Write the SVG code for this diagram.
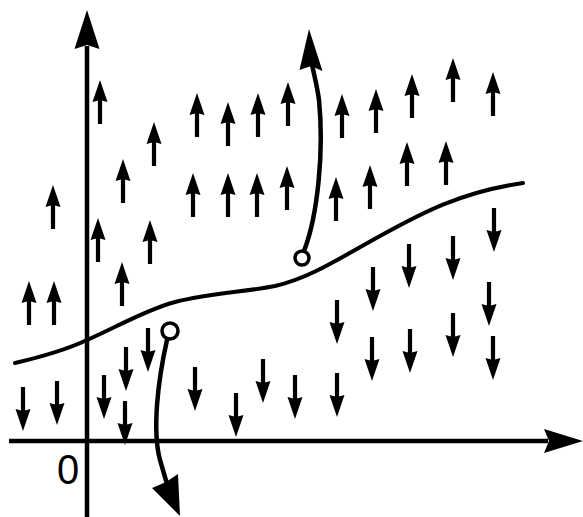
<svg xmlns="http://www.w3.org/2000/svg" xmlns:xlink="http://www.w3.org/1999/xlink" width="583" height="517" viewBox="0 0 583 517">
<style>
.ax{stroke:#000;stroke-width:4.5;fill:none}
.cv{stroke:#000;stroke-width:4;fill:none;stroke-linecap:round}
.tr{stroke:#000;stroke-width:4.5;fill:none;stroke-linecap:round}
.hd{fill:#000}
.pt{fill:#fff;stroke:#000;stroke-width:3.5}
.lb{font-family:"Liberation Sans",Arial,sans-serif;font-size:42px;fill:#000}
</style>
<defs>
<g id="up"><path d="M0,0 L7.5,22 L0,20 L-7.5,22 Z" fill="#000"/><rect x="-2.1" y="17" width="4.2" height="27" fill="#000"/></g>
<g id="dn"><rect x="-2.1" y="0" width="4.2" height="27" fill="#000"/><path d="M0,44 L7.5,22 L0,24 L-7.5,22 Z" fill="#000"/></g>
</defs>
<rect width="583" height="517" fill="#fff"/>
<g id="axes">
<line class="ax" x1="87" y1="46" x2="87" y2="517"/>
<path class="hd" d="M87,10 L99.5,49 L87,45 L74.5,49 Z"/>
<line class="ax" x1="9" y1="441" x2="548" y2="441"/>
<path class="hd" d="M583,441 L544,453 L549,441 L544,429 Z"/>
<text class="lb" x="68" y="484" text-anchor="middle" transform="translate(68,0) scale(0.95,1) translate(-68,0)">0</text>
</g>
<g id="boundary">
<path class="cv" d="M15,363 C45,356 70,348 87,340 C115,328 145,310 175,302 C210,293 245,292 275,286 C310,278 340,258 380,236 C420,214 460,192 523,183"/>
</g>
<g id="up-arrows">
<use href="#up" x="100" y="80"/>
<use href="#up" x="197" y="93"/>
<use href="#up" x="228" y="102"/>
<use href="#up" x="258" y="93"/>
<use href="#up" x="288" y="82"/>
<use href="#up" x="154" y="122"/>
<use href="#up" x="123" y="159"/>
<use href="#up" x="193" y="173"/>
<use href="#up" x="228" y="173"/>
<use href="#up" x="257" y="173"/>
<use href="#up" x="287" y="166"/>
<use href="#up" x="53" y="185"/>
<use href="#up" x="98" y="218"/>
<use href="#up" x="150" y="220"/>
<use href="#up" x="122" y="262"/>
<use href="#up" x="29" y="281"/>
<use href="#up" x="54" y="281"/>
<use href="#up" x="342" y="94"/>
<use href="#up" x="376" y="89"/>
<use href="#up" x="412" y="74"/>
<use href="#up" x="453" y="58"/>
<use href="#up" x="493" y="72"/>
<use href="#up" x="336" y="177"/>
<use href="#up" x="370" y="165"/>
<use href="#up" x="407" y="142"/>
<use href="#up" x="446" y="141"/>
</g>
<g id="down-arrows">
<use href="#dn" x="494" y="208"/>
<use href="#dn" x="453" y="236"/>
<use href="#dn" x="409" y="244"/>
<use href="#dn" x="373" y="267"/>
<use href="#dn" x="337" y="300"/>
<use href="#dn" x="489" y="282"/>
<use href="#dn" x="453" y="313"/>
<use href="#dn" x="410" y="329"/>
<use href="#dn" x="372" y="337"/>
<use href="#dn" x="493" y="336"/>
<use href="#dn" x="337" y="373"/>
<use href="#dn" x="295" y="375"/>
<use href="#dn" x="23" y="387"/>
<use href="#dn" x="57" y="381"/>
<use href="#dn" x="104" y="375"/>
<use href="#dn" x="126" y="347"/>
<use href="#dn" x="148" y="328"/>
<use href="#dn" x="125" y="401"/>
<use href="#dn" x="195" y="367"/>
<use href="#dn" x="236" y="393"/>
<use href="#dn" x="263" y="359"/>
</g>
<g id="trajectory-up">
<path class="tr" d="M304,251 C318,215 324,150 319,100 C317,85 314,75 312,64"/>
<path class="hd" d="M309,29 L322.5,71 L311,66 L299.5,70 Z"/>
<circle class="pt" cx="302" cy="258" r="7"/>
</g>
<g id="trajectory-down">
<path class="tr" d="M167,340 C158,380 152,430 160,460 L167,484"/>
<path class="hd" d="M180,516 L152,488 L166,482 L178,474 Z"/>
<circle class="pt" cx="170" cy="331" r="8"/>
</g>
</svg>
